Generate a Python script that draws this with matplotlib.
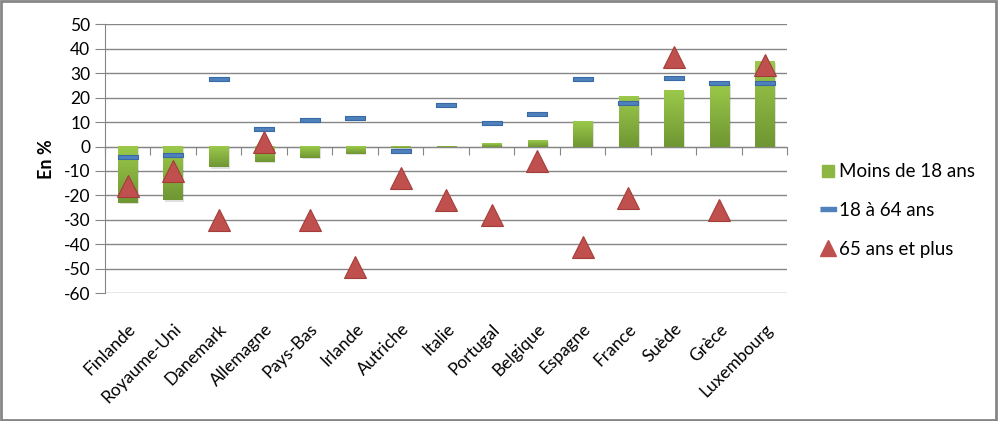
import numpy as np
import matplotlib.pyplot as plt
from matplotlib.colors import LinearSegmentedColormap
from matplotlib.patches import Rectangle
from matplotlib.lines import Line2D

plt.rcParams['font.family'] = ['Lato', 'DejaVu Sans']
plt.rcParams['axes.unicode_minus'] = False

countries = ['Finlande', 'Royaume-Uni', 'Danemark', 'Allemagne', 'Pays-Bas',
             'Irlande', 'Autriche', 'Italie', 'Portugal', 'Belgique',
             'Espagne', 'France', 'Suède', 'Grèce', 'Luxembourg']
moins18 = [-23, -22, -8.5, -6.3, -4.7, -3, -0.5, 0.4, 1.3, 2.5, 10.3, 20.5, 23, 26, 35]
adultes = [-4.3, -3.5, 27.5, 7, 11, 11.5, -2, 17.2, 9.5, 13.5, 27.5, 18, 28, 26.2, 26]
seniors = [-16, -10, -30, 2, -30, -49.5, -13, -22, -28, -6, -41, -21, 36.5, -26, 33.5]

green_light = '#9BC94A'
green_dark = '#6F9633'
blue = '#4F81BD'
red = '#C0504D'
grey = '#868686'

fig = plt.figure(figsize=(9.98, 4.21), dpi=100)
ax = fig.add_axes([0.105, 0.304, 0.684, 0.638])

x = np.arange(len(countries))
w = 0.42
cmap = LinearSegmentedColormap.from_list('g', [green_dark, green_light])
grad = np.linspace(0, 1, 100).reshape(-1, 1)
for xi, v in zip(x, moins18):
    lo, hi = min(0, v), max(0, v)
    # small shadow then gradient bar
    ax.add_patch(Rectangle((xi - w / 2 + 0.04, lo - 0.6), w, hi - lo,
                           color='#000000', alpha=0.12, lw=0, zorder=2))
    ax.imshow(grad, extent=(xi - w / 2, xi + w / 2, lo, hi), origin='lower',
              cmap=cmap, aspect='auto', zorder=3)

dash = [(-1, -0.2), (1, -0.2), (1, 0.2), (-1, 0.2), (-1, -0.2)]
ax.plot(x, adultes, ls='none', marker=dash, ms=15, mfc=blue, mec='#3A6AA5',
        mew=0.8, zorder=5)
ax.plot(x, seniors, ls='none', marker='^', ms=15.5, mfc=red, mec='#A33D3A',
        mew=0.8, zorder=6)

ax.set_xlim(-0.5, len(countries) - 0.5)
ax.set_ylim(-60, 50)
ax.set_yticks(np.arange(-60, 51, 10))
ax.yaxis.grid(True, color=grey, lw=1)
ax.set_axisbelow(True)
for s in ['top', 'right']:
    ax.spines[s].set_visible(False)
ax.spines['left'].set_color(grey)
ax.spines['bottom'].set_position(('data', 0))
ax.spines['bottom'].set_color(grey)
ax.tick_params(axis='y', colors=grey, length=7, labelsize=12.5, labelcolor='black')
ax.set_xticks(np.arange(len(countries) + 1) - 0.5)
ax.set_xticklabels([])
ax.tick_params(axis='x', colors=grey, length=6, direction='out')

sec = ax.secondary_xaxis(-0.0)
sec.set_xticks(x)
sec.set_xticklabels(countries, rotation=45, ha='right', rotation_mode='anchor',
                    fontsize=12.5)
sec.tick_params(length=0, pad=20)
sec.spines['bottom'].set_visible(False)

ax.set_ylabel('En %', fontsize=13, fontweight='bold', labelpad=6)

handles = [
    Line2D([], [], ls='none', marker='s', ms=8.5, mfc='#8DB643', mec='#8DB643'),
    Line2D([], [], ls='none', marker=[(-1, -0.2), (1, -0.2), (1, 0.2), (-1, 0.2)],
           ms=11, mfc=blue, mec=blue),
    Line2D([], [], ls='none', marker='^', ms=11, mfc=red, mec=red),
]
fig.legend(handles, ['Moins de 18 ans', '18 à 64 ans', '65 ans et plus'],
           loc='upper left', bbox_to_anchor=(0.806, 0.652), frameon=False,
           fontsize=13.5, handlelength=0.7, handletextpad=0.25, labelspacing=1.15)

fig.patches.append(Rectangle((0.001, 0.002), 0.997, 0.995, transform=fig.transFigure,
                             fill=False, ec=grey, lw=2))

fig.savefig('out.png', dpi=100)
